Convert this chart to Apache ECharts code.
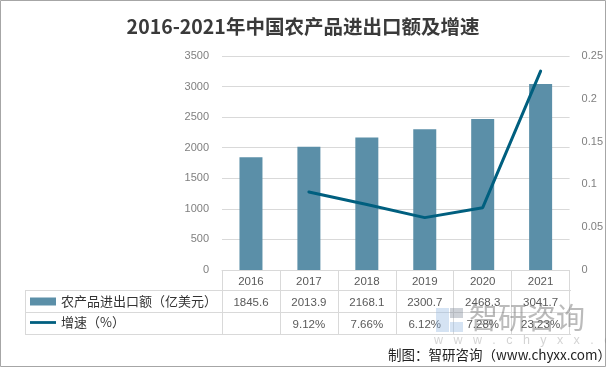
<!DOCTYPE html>
<html><head><meta charset="utf-8">
<style>html,body{margin:0;padding:0;background:#fff}#c{width:606px;height:367px}</style>
<script src="https://cdn.jsdelivr.net/npm/echarts@6/dist/echarts.min.js"></script>
</head><body><div id="c"></div>
<script>
const years = ['2016','2017','2018','2019','2020','2021'];
const tradeValues = [1845.6,2013.9,2168.1,2300.7,2468.3,3041.7];
const growthRates = [null,0.0912,0.0766,0.0612,0.0728,0.2323];
const growthLabels = ['','9.12%','7.66%','6.12%','7.28%','23.23%'];
const titleText = '2016-2021年中国农产品进出口额及增速';
const barName = '农产品进出口额（亿美元）';
const lineName = '增速（%）';
const creditText = '制图：智研咨询（www.chyxx.com）';
const cjk = '"Noto Sans CJK SC","Liberation Sans",sans-serif';
const num = '"Liberation Sans","Noto Sans CJK SC",sans-serif';
const gridC = '#d9d9d9', txt = '#595959';
const chart = echarts.init(document.getElementById('c'), null, {renderer:'canvas'});
const hLine = (x1,x2,y)=>({type:'line',silent:true,shape:{x1,y1:y,x2,y2:y},style:{stroke:gridC,lineWidth:1}});
chart.setOption({
  animation:false,
  backgroundColor:'#fff',
  title:{text:titleText,left:'center',top:12,textStyle:{fontFamily:cjk,fontSize:19.5,fontWeight:'bold',color:'#3a3a3a'}},
  grid:{left:222,right:35.5,top:56,bottom:97},
  legend:{orient:'vertical',left:25,top:290,itemWidth:26,itemHeight:8,itemGap:8,
    textStyle:{fontFamily:cjk,fontSize:13,color:'#333'},
    data:[{name:barName,icon:'rect'},{name:lineName,icon:'path://M0,0L0,0M0,2.5H28V5.5H0ZM0,8L0,8'}]},
  xAxis:{type:'category',data:years,
    axisLine:{lineStyle:{color:gridC}},
    axisTick:{show:true,length:64,lineStyle:{color:gridC},alignWithLabel:false},
    axisLabel:{interval:0,margin:2,
      formatter:(v,i)=>`{a|${v}}\n{b|${tradeValues[i].toFixed(1)}}\n{c|${growthLabels[i]||' '}}`,
      rich:{a:{fontFamily:num,fontSize:11.5,color:txt,height:20,lineHeight:20},
            b:{fontFamily:num,fontSize:11.5,color:txt,height:22,lineHeight:22},
            c:{fontFamily:num,fontSize:11.5,color:txt,height:22,lineHeight:22}}}},
  yAxis:[
    {type:'value',min:0,max:3500,interval:500,axisLine:{show:false},axisTick:{show:false},
     axisLabel:{margin:13,fontFamily:num,fontSize:11,color:'#7f7f7f',formatter:v=>String(v)},splitLine:{lineStyle:{color:gridC}}},
    {type:'value',min:0,max:0.25,interval:0.05,axisLine:{show:false},axisTick:{show:false},
     axisLabel:{margin:12,fontFamily:num,fontSize:11,color:'#7f7f7f'},splitLine:{show:false}}
  ],
  series:[
    {name:barName,type:'bar',data:tradeValues,barWidth:23,itemStyle:{color:'#5b8fa8'}},
    {name:lineName,type:'line',yAxisIndex:1,data:growthRates,symbol:'none',
     lineStyle:{color:'#005f7f',width:3,cap:'round'},itemStyle:{color:'#005f7f'}}
  ],
  graphic:[
    {type:'rect',silent:true,z:-1,shape:{x:0.5,y:0.5,width:605,height:366},style:{fill:'none',stroke:'#a6a6a6',lineWidth:1}},
    hLine(25,571,290.5),hLine(25,571,312.5),hLine(25,571,334.5),
    {type:'line',silent:true,shape:{x1:25.5,y1:290,x2:25.5,y2:335},style:{stroke:gridC}},
    {type:'text',silent:true,z:-1,x:388,y:348,style:{text:creditText,font:'13.5px '+cjk,fill:'#222'}},
    {type:'text',silent:true,z:5,x:469,y:303,style:{text:'智研咨询',font:'29px '+cjk,fill:'rgba(120,120,120,0.5)'}},
    {type:'text',silent:true,z:5,x:434,y:334,style:{text:'w   w   w   .   c   h   y   x   x   .   c   o   m',font:'12.5px '+num,fill:'rgba(130,130,130,0.35)'}},
    {type:'rect',silent:true,z:5,shape:{x:436,y:308,width:13,height:24},style:{fill:'rgba(150,185,225,0.4)'}},
    {type:'rect',silent:true,z:5,shape:{x:450,y:308,width:13,height:10},style:{fill:'rgba(130,140,155,0.4)'}},
    {type:'rect',silent:true,z:5,shape:{x:450,y:322,width:13,height:10},style:{fill:'rgba(150,185,225,0.4)'}}
  ]
});
</script></body></html>
